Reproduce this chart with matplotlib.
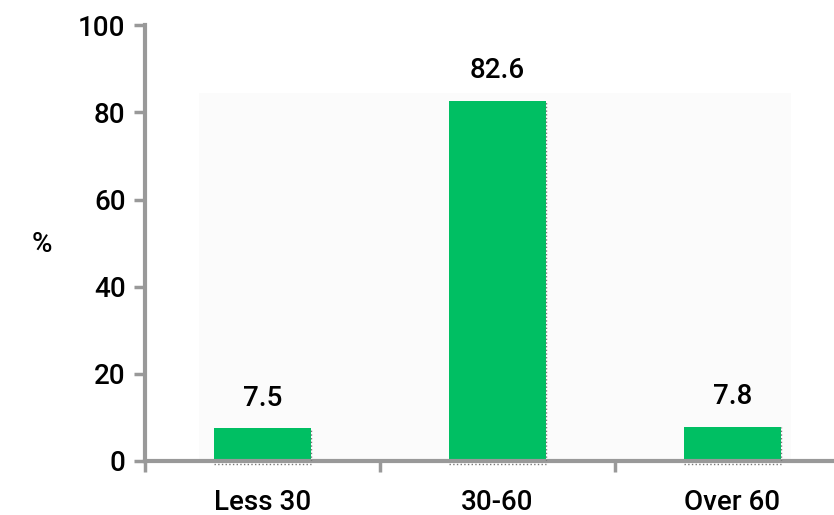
import matplotlib.pyplot as plt
import matplotlib.patches as mpatches

groups = ["Less 30", "30-60", "Over 60"]
shares = [7.5, 82.6, 7.8]
yticks = [0, 20, 40, 60, 80, 100]

bar_color = "#00BF63"
axis_color = "#999999"

plt.rcParams["font.family"] = ["Roboto", "DejaVu Sans"]
plt.rcParams["font.weight"] = "medium"

fig = plt.figure(figsize=(8.34, 5.15), dpi=100)
ax = fig.add_axes([0.174, 0.105, 0.845, 0.846])

# faint plot-area background
ax.add_patch(mpatches.Rectangle((-0.27, 0), 2.52, 84.5, facecolor="#fbfbfb",
                                edgecolor="none", zorder=0))

x = list(range(len(groups)))
bars = ax.bar(x, shares, width=0.41, color=bar_color, zorder=2)

for b, v in zip(bars, shares):
    # dotted outline on the right and bottom edges
    ax.plot([b.get_x() + b.get_width()] * 2, [0, v], ls=":", color="#777777",
            lw=1, zorder=3)
    ax.plot([b.get_x(), b.get_x() + b.get_width()], [-0.8, -0.8], ls=":",
            color="#777777", lw=1, zorder=3, clip_on=False)
    ax.annotate(f"{v}", (b.get_x() + b.get_width() / 2, v), xytext=(0, 12),
                textcoords="offset points", ha="center", va="bottom",
                fontsize=20)

ax.set_xlim(-0.5, 2.5)
ax.set_ylim(0, 100)
ax.set_yticks(yticks)
ax.set_xticks(x)
ax.set_xticklabels(groups, fontsize=20)
ax.set_xticks([-0.5, 0.5, 1.5, 2.5], minor=True)
ax.tick_params(axis="y", labelsize=20, length=8, width=2.5, color=axis_color, pad=6)
ax.tick_params(axis="x", which="major", length=0, pad=20)
ax.tick_params(axis="x", which="minor", length=8, width=2.5, color=axis_color)

for side in ["top", "right"]:
    ax.spines[side].set_visible(False)
for side in ["left", "bottom"]:
    ax.spines[side].set_color(axis_color)
    ax.spines[side].set_linewidth(3)

fig.text(0.05, 0.525, "%", fontsize=20, ha="center", va="center")

fig.savefig("out.png", dpi=100)
